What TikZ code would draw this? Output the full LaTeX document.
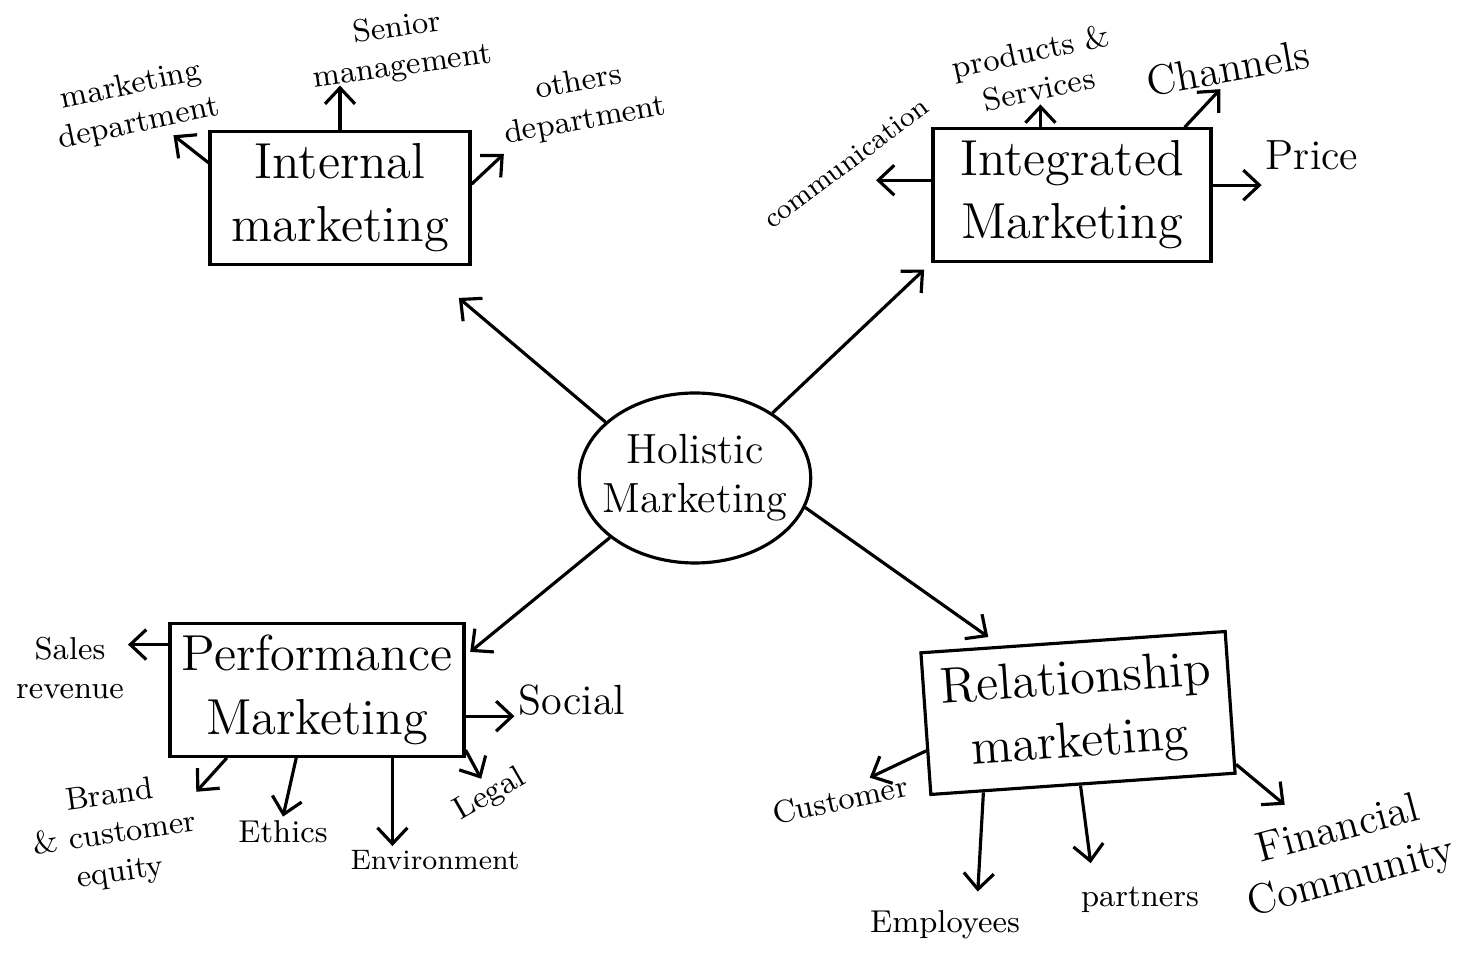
\documentclass[tikz,border=0pt]{standalone}
\usetikzlibrary{arrows.meta,shapes.geometric}

\begin{document}
\begin{tikzpicture}[x=0.1mm, y=-0.1mm,
    arr/.style={-{Straight Barb[length=1.6mm,width=3mm]}, line width=0.9pt},
    hub/.style={draw, ellipse, line width=0.9pt, align=center, font=\large, inner sep=-3pt, minimum width=2.1cm, minimum height=1.7cm},
    branch/.style={draw, line width=0.9pt, align=center, font=\Large},
    lbl/.style={align=center, font=\small, inner sep=1pt}]
    \useasboundingbox (0,0) rectangle (1468,973);

    % centre and the four branches
    \node[hub] (hol) at (695,478) {Holistic\\Marketing};
    \node[branch, minimum width=2.6cm, minimum height=1.17cm] (inm) at (340,198) {Internal\\marketing};
    \node[branch, minimum width=2.78cm, minimum height=1.22cm] (itm) at (1072,195) {Integrated\\Marketing};
    \node[branch, minimum width=2.85cm, minimum height=1.25cm] (pfm) at (317,690) {Performance\\Marketing};
    \node[branch, minimum width=3.05cm, minimum height=1.42cm, rotate=4] (rlm) at (1078,713) {Relationship\\marketing};

    \foreach \a/\b/\s in {148/inm.-40/5mm, 40/itm.south west/1mm, 215/pfm.13/0.6mm, -15/rlm.135/1.5mm} {
      \draw[arr, shorten >=\s] (hol.\a) -- (\b);
    }

    % internal
    \node[lbl, rotate=12] (mkd) at (135,105) {marketing\\department};
    \node[lbl, rotate=8] (snm) at (400,48) {Senior\\management};
    \node[lbl, rotate=10] (otd) at (582,102) {others\\department};
    \draw[arr] (inm.165) -- (mkd);
    \draw[arr] (inm.north) -- (inm.north |- snm.south);
    \draw[arr] (inm.6) -- (otd.south west);

    % integrated
    \node[lbl, rotate=37, font=\footnotesize] (com) at (846,163) {communication};
    \node[lbl, rotate=12] (pns) at (1035,70) {products \&\\Services};
    \node[lbl, rotate=10, font=\large] (chn) at (1228,68) {Channels};
    \node[lbl, font=\large] (prc) at (1312,155) {Price};
    \draw[arr, shorten >=3mm] (itm.174) -- (itm.174 -| com);
    \draw[arr] (itm.115) -- (itm.115 |- pns.south);
    \draw[arr] (itm.31) -- (chn.-120);
    \draw[arr] (itm.4) -- (itm.4 -| prc.west);

    % performance
    \node[lbl] (slr) at (70,668) {Sales\\revenue};
    \node[lbl, font=\large] (soc) at (572,700) {Social};
    \node[lbl, rotate=8] (bce) at (115,835) {Brand\\\& customer\\equity};
    \node[lbl] (eth) at (283,832) {Ethics};
    \node[lbl, font=\footnotesize] (env) at (435,860) {Environment};
    \node[lbl, rotate=30] (lgl) at (490,795) {Legal};
    \draw[arr] (pfm.163) -- (pfm.163 -| slr.east);
    \draw[arr] (pfm.-10) -- (pfm.-10 -| soc.west);
    \draw[arr] (pfm.217) -- (bce.20);
    \draw[arr] (pfm.253) -- (eth.north);
    \draw[arr] (pfm.-42) -- (pfm.-42 |- env.north);
    \draw[arr] (pfm.-22) -- (lgl);

    % relationship
    \node[lbl, rotate=12] (cst) at (840,800) {Customer};
    \node[lbl] (emp) at (945,925) {Employees};
    \node[lbl] (prt) at (1140,900) {partners};
    \node[lbl, rotate=15, font=\large] (fnc) at (1345,855) {Financial\\Community};
    \draw[arr] (rlm.190) -- (cst.25);
    \draw[arr, shorten >=1.5mm] (rlm.-144) -- (emp.30);
    \draw[arr, shorten >=2mm] (rlm.-92) -- (prt.160);
    \draw[arr, shorten >=2mm] (rlm.-22) -- (fnc);
\end{tikzpicture}
\end{document}
